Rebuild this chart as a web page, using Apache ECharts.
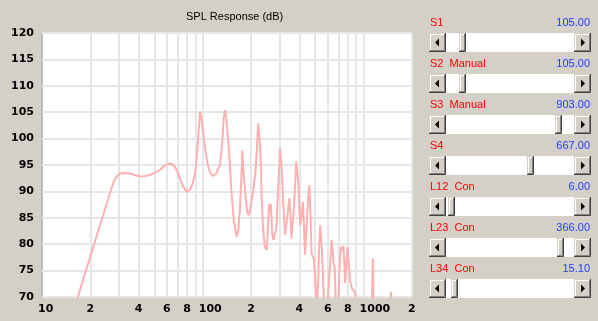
<!DOCTYPE html>
<html>
<head>
<meta charset="utf-8">
<title>SPL Response</title>
<script src="https://cdn.jsdelivr.net/npm/echarts@6/dist/echarts.min.js"></script>
<style>
  html, body { margin: 0; padding: 0; background: #d4d0c8; }
  #main { width: 598px; height: 321px; }
</style>
</head>
<body>
<div id="main"></div>
<script type="text/javascript">
    // frequency (Hz) and SPL (dB), values below 70 are clipped
    var freqHz = [15, 26.4, 27.2, 28, 28.8, 29.7, 30.8, 31.9, 35.2, 38.5, 41.6, 46.8, 50.5, 54.1, 57, 59, 60.8, 62.4, 64.5, 67, 69.5, 72, 74, 76, 78, 80.3, 82, 84, 87.1, 89.5, 91.4, 94, 96, 98, 100.6, 104, 108, 112, 116, 121, 127.8, 132, 135, 137.4, 140, 144, 148, 151, 156, 162.4, 166, 170, 174, 176, 179, 183, 188, 192, 197, 206, 212, 217, 221, 225, 229, 232, 237, 243, 250, 255, 258, 262, 265, 270, 275, 281, 287, 294, 302, 309, 316, 325, 335, 345, 350, 356, 362, 370, 381, 393, 403, 410, 419, 425, 432, 440, 450, 460, 468, 475, 490, 500, 511, 520, 530, 537, 549, 558, 566, 574, 585, 600, 633, 645, 649, 662, 672, 685, 700, 708, 722, 735, 749, 760, 767, 780, 794, 810, 823, 845, 865, 880, 899, 910, 930, 1100, 1126, 1142, 1155, 1170, 1450, 1482, 1500, 2000];
    var splDb = [65.4, 89.6, 90.8, 91.9, 92.6, 93.1, 93.4, 93.5, 93.4, 93.0, 92.8, 93.1, 93.5, 94.05, 94.7, 95.0, 95.25, 95.3, 95.2, 94.7, 93.7, 92.5, 91.5, 90.8, 90.2, 90.0, 90.1, 90.5, 91.8, 93.5, 96, 101, 105.1, 104, 101, 97.5, 94.7, 93.3, 92.9, 93.4, 95, 99, 104, 105.4, 104, 99.7, 94, 89.6, 84.5, 81.4, 82.5, 86.5, 93, 97.8, 94, 90.3, 86.5, 85.5, 86.5, 90.3, 93.4, 98, 102.9, 100, 96, 89.6, 83, 79.5, 78.9, 84, 87.7, 86, 87.6, 82, 80.8, 82, 83.3, 90, 98.2, 94.7, 88, 81.7, 85, 88.7, 86, 81.1, 81.1, 88, 95.6, 91.5, 83.6, 85, 88, 84, 78, 82, 88, 91.2, 85, 78, 77.3, 74, 68, 72, 80, 83.6, 79.5, 75.1, 69, 65, 66, 70, 80.8, 78, 76.4, 75.4, 68, 66, 70, 76, 79.5, 78.8, 79.7, 76, 72.6, 76, 79.5, 76, 73.2, 71.7, 71.7, 71.0, 71.3, 68, 64, 64, 70, 77.3, 69, 64, 64, 71, 66, 62];

    // log axis grid lines and labels
    var gridFreqs = [20, 30, 40, 50, 60, 70, 80, 90, 100, 200, 300, 400, 500, 600, 700, 800, 900, 1000, 2000];
    var labelFreqs = [10, 20, 40, 60, 80, 100, 200, 400, 600, 800, 1000, 2000];
    var labelTexts = ['10', '2', '4', '6', '8', '100', '2', '4', '6', '8', '1000', '2'];

    // slider panel on the right
    var sliderNames = ['S1', 'S2  Manual', 'S3  Manual', 'S4', 'L12  Con', 'L23  Con', 'L34  Con'];
    var sliderValues = [105, 105, 903, 667, 6, 366, 15.1];
    var sliderMax = [1000, 1000, 1000, 1000, 400, 400, 400];

    var myChart = echarts.init(document.getElementById('main'));

    var lg = function (f) { return Math.log10(f); };
    var lineData = freqHz.map(function (f, i) { return [lg(f), splDb[i]]; });

    var labelMap = {};
    labelFreqs.forEach(function (f, i) { labelMap[lg(f).toFixed(5)] = labelTexts[i]; });

    // windows style 3d button
    function bevel(x, y, w, h) {
        return [
            { type: 'rect', shape: { x: x, y: y, width: w, height: h }, style: { fill: '#d4d0c8' } },
            { type: 'polyline', shape: { points: [[x + 1.5, y + h - 2], [x + 1.5, y + 1.5], [x + w - 2, y + 1.5]] }, style: { stroke: '#ffffff', lineWidth: 1, fill: null } },
            { type: 'polyline', shape: { points: [[x, y + h - 0.5], [x + w - 0.5, y + h - 0.5], [x + w - 0.5, y]] }, style: { stroke: '#404040', lineWidth: 1, fill: null } },
            { type: 'polyline', shape: { points: [[x + 1, y + h - 1.5], [x + w - 1.5, y + h - 1.5], [x + w - 1.5, y + 1]] }, style: { stroke: '#808080', lineWidth: 1, fill: null } }
        ];
    }

    var graphics = [];
    var panelX = 429, panelR = 591, btnW = 17, barH = 19, thumbW = 7;
    sliderNames.forEach(function (name, i) {
        var top = 33 + 41 * i;
        var labelY = 22.5 + 41 * i;
        graphics.push({ type: 'text', x: 430, y: labelY, style: { text: name, fill: '#ff0000', font: '11px "Liberation Sans"', textAlign: 'left', textVerticalAlign: 'middle' } });
        graphics.push({ type: 'text', x: 590, y: labelY, style: { text: sliderValues[i].toFixed(2), fill: '#1e3cff', font: '11px "Liberation Sans"', textAlign: 'right', textVerticalAlign: 'middle' } });
        graphics.push({ type: 'rect', shape: { x: panelX, y: top, width: panelR - panelX, height: barH }, style: { fill: '#ffffff' } });
        graphics = graphics.concat(bevel(panelX, top, btnW, barH));
        graphics = graphics.concat(bevel(panelR - btnW, top, btnW, barH));
        var cy = top + barH / 2;
        var lx = panelX + btnW / 2;
        var rx = panelR - btnW / 2;
        graphics.push({ type: 'polygon', shape: { points: [[lx - 2.5, cy], [lx + 1.5, cy - 4], [lx + 1.5, cy + 4]] }, style: { fill: '#000' } });
        graphics.push({ type: 'polygon', shape: { points: [[rx + 2.5, cy], [rx - 1.5, cy - 4], [rx - 1.5, cy + 4]] }, style: { fill: '#000' } });
        var tx = panelX + btnW + sliderValues[i] / sliderMax[i] * (panelR - panelX - 2 * btnW - thumbW);
        graphics = graphics.concat(bevel(Math.round(tx), top, thumbW, barH));
    });

    var option = {
        backgroundColor: '#d4d0c8',
        animation: false,
        title: {
            text: 'SPL Response (dB)',
            left: 181,
            top: 6,
            textStyle: { color: '#000', fontFamily: 'Liberation Sans', fontSize: 11, fontWeight: 'normal' }
        },
        grid: {
            left: 42, top: 33, width: 370, height: 264,
            show: true,
            backgroundColor: '#ffffff',
            borderColor: '#bcbcbc',
            borderWidth: 2
        },
        xAxis: {
            type: 'value',
            min: 1,
            max: lg(2000),
            axisLine: { show: false },
            axisTick: { show: false, customValues: gridFreqs.map(lg) },
            splitLine: { show: true, lineStyle: { color: '#e6e6e6', width: 2 } },
            axisLabel: {
                customValues: labelFreqs.map(lg),
                formatter: function (v) { return labelMap[v.toFixed(5)] || ''; },
                color: '#000',
                fontFamily: 'DejaVu Sans',
                fontWeight: 'bold',
                fontSize: 11,
                margin: 7,
                align: 'left',
                padding: [0, 0, 0, -4]
            }
        },
        yAxis: {
            type: 'value',
            min: 70,
            max: 120,
            interval: 5,
            axisLine: { show: false },
            axisTick: { show: false },
            splitLine: { lineStyle: { color: '#e6e6e6', width: 2 } },
            axisLabel: {
                color: '#000',
                fontFamily: 'DejaVu Sans',
                fontWeight: 'bold',
                fontSize: 11,
                margin: 8
            }
        },
        series: [{
            type: 'line',
            data: lineData,
            showSymbol: false,
            smooth: false,
            clip: true,
            lineStyle: { color: '#ffb0b0', width: 2 }
        }],
        graphic: graphics
    };

    myChart.setOption(option);
</script>
</body>
</html>
